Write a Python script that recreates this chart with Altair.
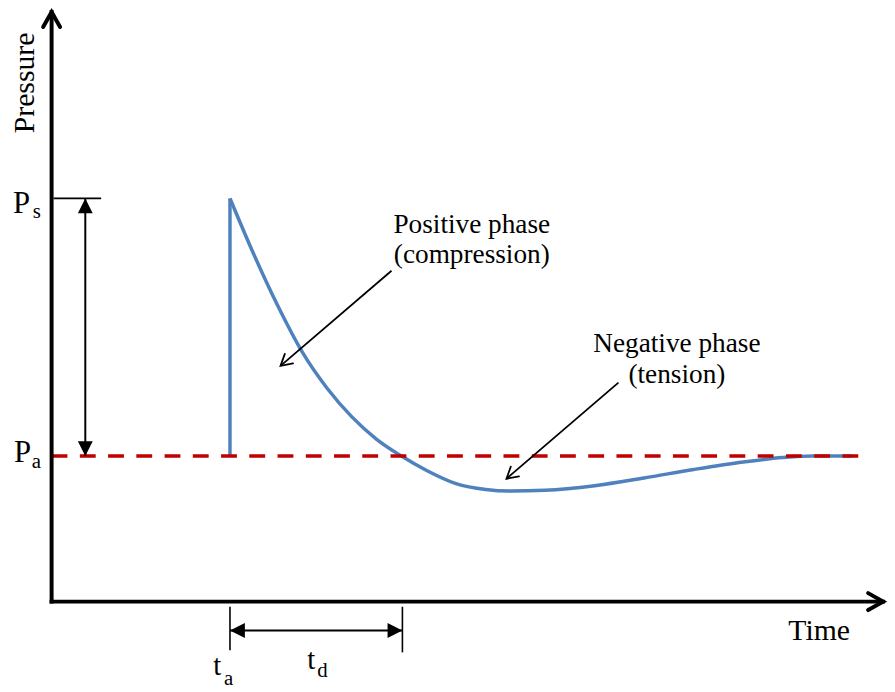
import math
import altair as alt
import pandas as pd

# ---- data (time in arbitrary units, pressure: Pa = 0, Ps = 100) ----
curve_t = [180, 203, 228, 253, 278, 303, 328, 353, 378, 408, 438, 463,
           498, 548, 598, 648, 698, 738, 768, 808]
curve_p = [100, 79.2, 58.5, 40.3, 26.3, 15.2, 6.5, 0, -5.5, -10.7, -13.0, -13.6,
           -13.3, -11.5, -8.5, -5.2, -2.3, -0.6, 0, 0]

P_a = 0
P_s = 100
t_a = 180
t_end_pos = 354          # t_a + t_d
t_axis_end = 839
p_axis = -56.5
p_axis_top = 172.3
ref_end = 816

X_DOMAIN = [-44, 843]
Y_DOMAIN = [-90.38, 172.69]
W, H = 887, 684
PX_PER_P = H / (Y_DOMAIN[1] - Y_DOMAIN[0])

FONT = "Liberation Serif"
BLUE = "#4F81BD"

xs = alt.Scale(domain=X_DOMAIN, nice=False, zero=False)
ys = alt.Scale(domain=Y_DOMAIN, nice=False, zero=False)


def X(f):
    return alt.X(f, type="quantitative", scale=xs, axis=None)


def Y(f):
    return alt.Y(f, type="quantitative", scale=ys, axis=None)


def screen_angle(x1, y1, x2, y2):
    dx = (x2 - x1)
    dy = -(y2 - y1) * PX_PER_P
    return math.degrees(math.atan2(dx, -dy)) % 360


# ---- curve: shock front (vertical) + decay ----
front_df = pd.DataFrame({"x1": [t_a], "x2": [t_a], "y1": [P_a], "y2": [curve_p[0]]})
front = alt.Chart(front_df).mark_rule(color=BLUE, strokeWidth=3.5).encode(
    x=X("x1"), x2="x2", y=Y("y1"), y2="y2"
)
curve_df = pd.DataFrame({"t": curve_t, "p": curve_p})
curve = alt.Chart(curve_df).mark_line(
    color=BLUE, strokeWidth=3.5, interpolate="monotone", strokeJoin="round"
).encode(x=X("t"), y=Y("p"))

# ---- reference (ambient) line ----
ref_df = pd.DataFrame({"x1": [0], "x2": [ref_end], "y1": [P_a], "y2": [P_a]})
ref = alt.Chart(ref_df).mark_rule(color="#C00000", strokeWidth=3.5, strokeDash=[16, 12.5]).encode(
    x=X("x1"), x2="x2", y=Y("y1"), y2="y2"
)

# ---- axes ----
axes_df = pd.DataFrame({
    "x1": [0, 0], "y1": [p_axis, p_axis],
    "x2": [0, t_axis_end], "y2": [p_axis_top, p_axis],
})
axes = alt.Chart(axes_df).mark_rule(color="black", strokeWidth=4, strokeCap="square").encode(
    x=X("x1"), x2="x2", y=Y("y1"), y2="y2"
)
axis_heads_df = pd.DataFrame({"x": [0, t_axis_end], "y": [p_axis_top, p_axis], "ang": [0, 90]})
axis_heads = alt.Chart(axis_heads_df).mark_point(
    shape="M-0.57,1L0,0L0.57,1", filled=False, color="black", strokeWidth=4,
    size=900, opacity=1, strokeJoin="miter", strokeCap="round"
).encode(x=X("x"), y=Y("y"), angle=alt.Angle("ang:Q", scale=None))

# ---- thin ticks ----
ticks_df = pd.DataFrame({
    "x1": [2, t_a, t_end_pos], "y1": [P_s, -58.5, -58.5],
    "x2": [50, t_a, t_end_pos], "y2": [P_s, -75.4, -76.2],
})
ticks = alt.Chart(ticks_df).mark_rule(color="black", strokeWidth=1.6).encode(
    x=X("x1"), x2="x2", y=Y("y1"), y2="y2"
)

# ---- dimension arrows ----
dim_df = pd.DataFrame({
    "x1": [34, t_a], "y1": [P_s, -67.7],
    "x2": [34, t_end_pos], "y2": [P_a, -67.7],
})
dims = alt.Chart(dim_df).mark_rule(color="black", strokeWidth=2).encode(
    x=X("x1"), x2="x2", y=Y("y1"), y2="y2"
)
dim_heads_df = pd.DataFrame({
    "x": [34, 34, t_a, t_end_pos],
    "y": [P_s, P_a, -67.7, -67.7],
    "ang": [0, 180, 270, 90],
})
dim_heads = alt.Chart(dim_heads_df).mark_point(
    shape="M0,0L-0.5,1L0.5,1Z", filled=True, color="black", size=900, opacity=1, strokeWidth=0
).encode(x=X("x"), y=Y("y"), angle=alt.Angle("ang:Q", scale=None))

# ---- annotation arrows ----
ann_x1 = [343, 572]
ann_y1 = [71.9, 28.5]
ann_x2 = [231, 459]
ann_y2 = [35.0, -8.8]
ann_df = pd.DataFrame({"x1": ann_x1, "y1": ann_y1, "x2": ann_x2, "y2": ann_y2})
ann_lines = alt.Chart(ann_df).mark_rule(color="black", strokeWidth=1.8).encode(
    x=X("x1"), x2="x2", y=Y("y1"), y2="y2"
)
ann_heads_df = pd.DataFrame({
    "x": ann_x2, "y": ann_y2,
    "ang": [screen_angle(a, b, c, d) for a, b, c, d in zip(ann_x1, ann_y1, ann_x2, ann_y2)],
})
ann_heads = alt.Chart(ann_heads_df).mark_point(
    shape="M-0.57,1L0,0L0.57,1", filled=False, color="black", strokeWidth=1.8,
    size=500, opacity=1, strokeCap="round"
).encode(x=X("x"), y=Y("y"), angle=alt.Angle("ang:Q", scale=None))


# ---- texts ----
def text_layer(df, size, align):
    return alt.Chart(df).mark_text(
        font=FONT, fontSize=size, align=align, baseline="alphabetic", color="black"
    ).encode(x=X("x"), y=Y("y"), text="txt:N")


time_df = pd.DataFrame({"x": [774.5], "y": [-71.5], "txt": ["Time"]})
time_txt = text_layer(time_df, 30, "center")

p_df = pd.DataFrame({"x": [-39, -38], "y": [94.2, -2.3], "txt": ["P", "P"]})
p_txt = text_layer(p_df, 31, "left")

t_df = pd.DataFrame({"x": [163, 258], "y": [-85.0, -82.5], "txt": ["t", "t"]})
t_txt = text_layer(t_df, 29, "left")

sub_df = pd.DataFrame({"x": [-19, -20, 174, 268], "y": [92.3, -4.6, -89.0, -85.8],
                       "txt": ["s", "a", "a", "d"]})
sub_txt = text_layer(sub_df, 21, "left")

pressure_df = pd.DataFrame({"x": [-18], "y": [144.8], "txt": ["Pressure"]})
pressure_txt = alt.Chart(pressure_df).mark_text(
    font=FONT, fontSize=30, align="center", baseline="alphabetic", angle=270, color="black"
).encode(x=X("x"), y=Y("y"), text="txt:N")

note_labels = ["Positive phase", "(compression)", "Negative phase", "(tension)"]
note_x = [424, 424, 631, 631]
note_y = [86.5, 75.0, 40.4, 28.5]
note_df = pd.DataFrame({"x": note_x, "y": note_y, "txt": note_labels})
note_txt = text_layer(note_df, 27.5, "center")

chart = alt.layer(
    curve, front, ref, axes, axis_heads, ticks, dims, dim_heads, ann_lines, ann_heads,
    time_txt, p_txt, t_txt, sub_txt, pressure_txt, note_txt,
).properties(
    width=W, height=H, padding=0,
    autosize=alt.AutoSizeParams(type="none"),
).configure_view(stroke=None)

chart.save("out.html", embed_options={"renderer": "svg", "actions": False})
